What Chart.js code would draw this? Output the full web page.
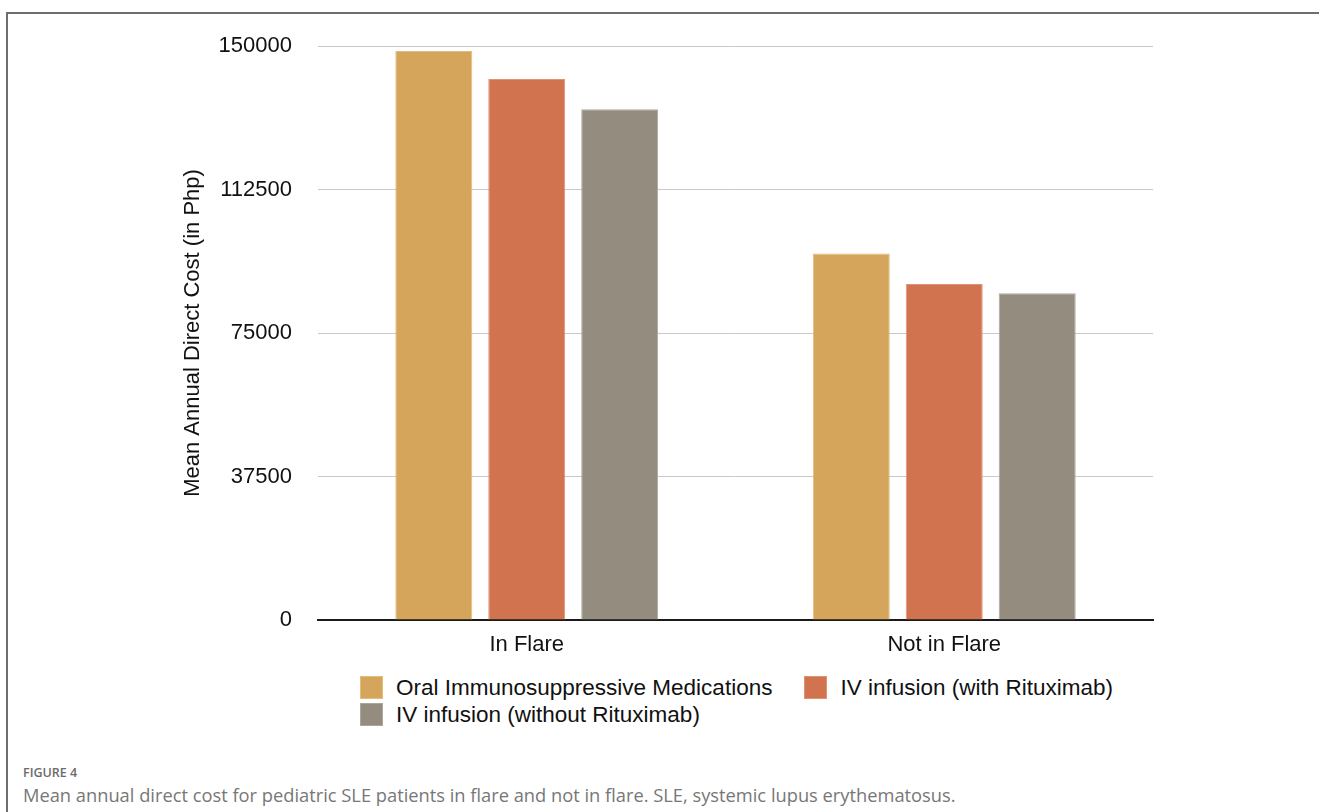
<!DOCTYPE html>
<html>
<head>
<meta charset="utf-8">
<title>Mean annual direct cost</title>
<script src="https://cdn.jsdelivr.net/npm/chart.js@4/dist/chart.umd.min.js"></script>
<style>
  html, body { margin: 0; padding: 0; background: #fff; }
  body { width: 1319px; height: 812px; position: relative; overflow: hidden; }
  #frame { position: absolute; left: 6px; top: 12px; width: 1400px; height: 900px;
           border-left: 2px solid #6e6e6e; border-top: 2px solid #6e6e6e; box-sizing: border-box; }
  #wrap { position: absolute; left: 0; top: 0; width: 1319px; height: 660px; }
  #legend { position: absolute; left: 360px; top: 676px; width: 790px;
            display: flex; flex-wrap: wrap; column-gap: 32px; row-gap: 4px;
            font-family: "Liberation Sans", Arial, sans-serif; font-size: 22.5px; color: #111; }
  .item { display: flex; align-items: center; height: 23px; }
  .sw { width: 23px; height: 23px; margin-right: 13px; box-sizing: border-box; border: 1px solid; }
  #fig { position: absolute; left: 23px; top: 764px; font-family: "Open Sans", sans-serif;
         font-size: 12.5px; font-weight: 600; color: #6b6b6b; }
  #cap { position: absolute; left: 23px; top: 782px; font-family: "Open Sans", sans-serif;
         font-size: 18.3px; color: #777; white-space: nowrap; }
</style>
</head>
<body>
<div id="frame"></div>
<div id="wrap"><canvas id="c" width="1319" height="660"></canvas></div>
<div id="legend"></div>
<div id="fig">FIGURE 4</div>
<div id="cap">Mean annual direct cost for pediatric SLE patients in flare and not in flare. SLE, systemic lupus erythematosus.</div>
<script>
// Categories and series (mean annual direct cost, Php)
const categories = ["In Flare", "Not in Flare"];
const seriesNames = [
  "Oral Immunosuppressive Medications",
  "IV infusion (with Rituximab)",
  "IV infusion (without Rituximab)"
];
const oralImmunosuppressive = [148700, 95800];
const ivWithRituximab = [141400, 87800];
const ivWithoutRituximab = [133500, 85400];
const yTicks = [0, 37500, 75000, 112500, 150000];

const fills = ["#d4a55a", "#d27350", "#958c80"];
const edges = ["#e3bd7e", "#e29274", "#aca59b"];
const values = [oralImmunosuppressive, ivWithRituximab, ivWithoutRituximab];

const font = "'Liberation Sans', Arial, Helvetica, sans-serif";

const datasets = seriesNames.map((name, i) => ({
  label: name,
  data: values[i],
  backgroundColor: fills[i],
  borderColor: edges[i],
  borderWidth: 1,
  categoryPercentage: 0.668,
  barPercentage: 0.828
}));

new Chart(document.getElementById("c"), {
  type: "bar",
  data: { labels: categories, datasets },
  options: {
    responsive: false,
    animation: false,
    devicePixelRatio: 1,
    layout: { padding: { left: 176, right: 166, top: 46, bottom: 0 } },
    plugins: { legend: { display: false }, tooltip: { enabled: false } },
    scales: {
      x: {
        grid: { display: false, drawTicks: false },
        border: { display: true, color: "#1a1a1a", width: 2 },
        ticks: { color: "#111", font: { family: font, size: 22 }, padding: 12 },
        afterFit: s => { s.height = 40; }
      },
      y: {
        min: 0,
        max: 150000,
        afterBuildTicks: s => { s.ticks = yTicks.map(v => ({ value: v })); },
        grid: { color: "#c9c9c9", lineWidth: 1, drawTicks: false },
        border: { display: false },
        ticks: { color: "#111", font: { family: font, size: 22 }, padding: 26,
                 callback: v => String(v) },
        title: { display: true, text: "Mean Annual Direct Cost (in Php)", color: "#111",
                 font: { family: font, size: 22 }, padding: 4 },
        afterFit: s => { s.width = 142; }
      }
    }
  }
});

// Legend
const legend = document.getElementById("legend");
seriesNames.forEach((name, i) => {
  const item = document.createElement("div");
  item.className = "item";
  const sw = document.createElement("span");
  sw.className = "sw";
  sw.style.background = fills[i];
  sw.style.borderColor = edges[i];
  const tx = document.createElement("span");
  tx.textContent = name;
  item.appendChild(sw);
  item.appendChild(tx);
  legend.appendChild(item);
});
</script>
</body>
</html>
